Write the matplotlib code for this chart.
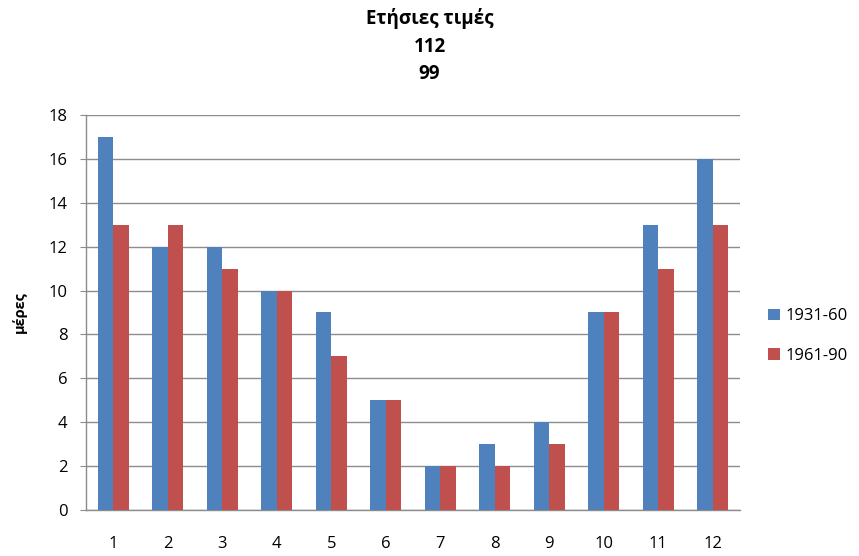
import matplotlib
matplotlib.use("Agg")
import matplotlib.pyplot as plt
import numpy as np

plt.rcParams['font.family'] = ['Open Sans', 'DejaVu Sans']

months = ['1', '2', '3', '4', '5', '6', '7', '8', '9', '10', '11', '12']
s1931 = [17, 12, 12, 10, 9, 5, 2, 3, 4, 9, 13, 16]
s1961 = [13, 13, 11, 10, 7, 5, 2, 2, 3, 9, 11, 13]
series_names = ['1931-60', '1961-90']
title = 'Ετήσιες τιμές\n112\n99'
ylabel = 'μέρες'

fig = plt.figure(figsize=(8.59, 5.56), dpi=100)
ax = fig.add_axes([0.1001, 0.0827, 0.7614, 0.7105])

x = np.arange(len(months))
w = 1 / 3.5
ax.bar(x - w / 2, s1931, w, color='#4F81BD', label=series_names[0], zorder=3)
ax.bar(x + w / 2, s1961, w, color='#C0504D', label=series_names[1], zorder=3)

ax.set_xlim(-0.5, len(months) - 0.5)
ax.set_ylim(0, 18)
ax.set_yticks(range(0, 19, 2))
ax.set_xticks(x)
ax.set_xticklabels(months)
ax.grid(axis='y', color='#8C8C8C', linewidth=1, zorder=0)
for s in ['top', 'right']:
    ax.spines[s].set_visible(False)
for s in ['left', 'bottom']:
    ax.spines[s].set_color('#8C8C8C')
    ax.spines[s].set_linewidth(1)
ax.tick_params(axis='y', length=4.3, color='#8C8C8C', labelsize=12, pad=9)
ax.tick_params(axis='x', length=0, labelsize=12, pad=19)

ax.set_ylabel(ylabel, fontsize=10.5, fontweight='bold', labelpad=15.5)

fig.text(0.5, 1 - 8 / 556, title, ha='center', va='top', fontsize=13.5, fontweight='bold', linespacing=1.5)

ax.legend(loc='center left', bbox_to_anchor=(762 / 859, 1 - 336 / 556), bbox_transform=fig.transFigure,
          frameon=False, fontsize=12, borderpad=0.35, borderaxespad=0,
          handlelength=0.7, handleheight=0.7, labelspacing=1.4, handletextpad=0.35)

fig.savefig('out.png', dpi=100)
